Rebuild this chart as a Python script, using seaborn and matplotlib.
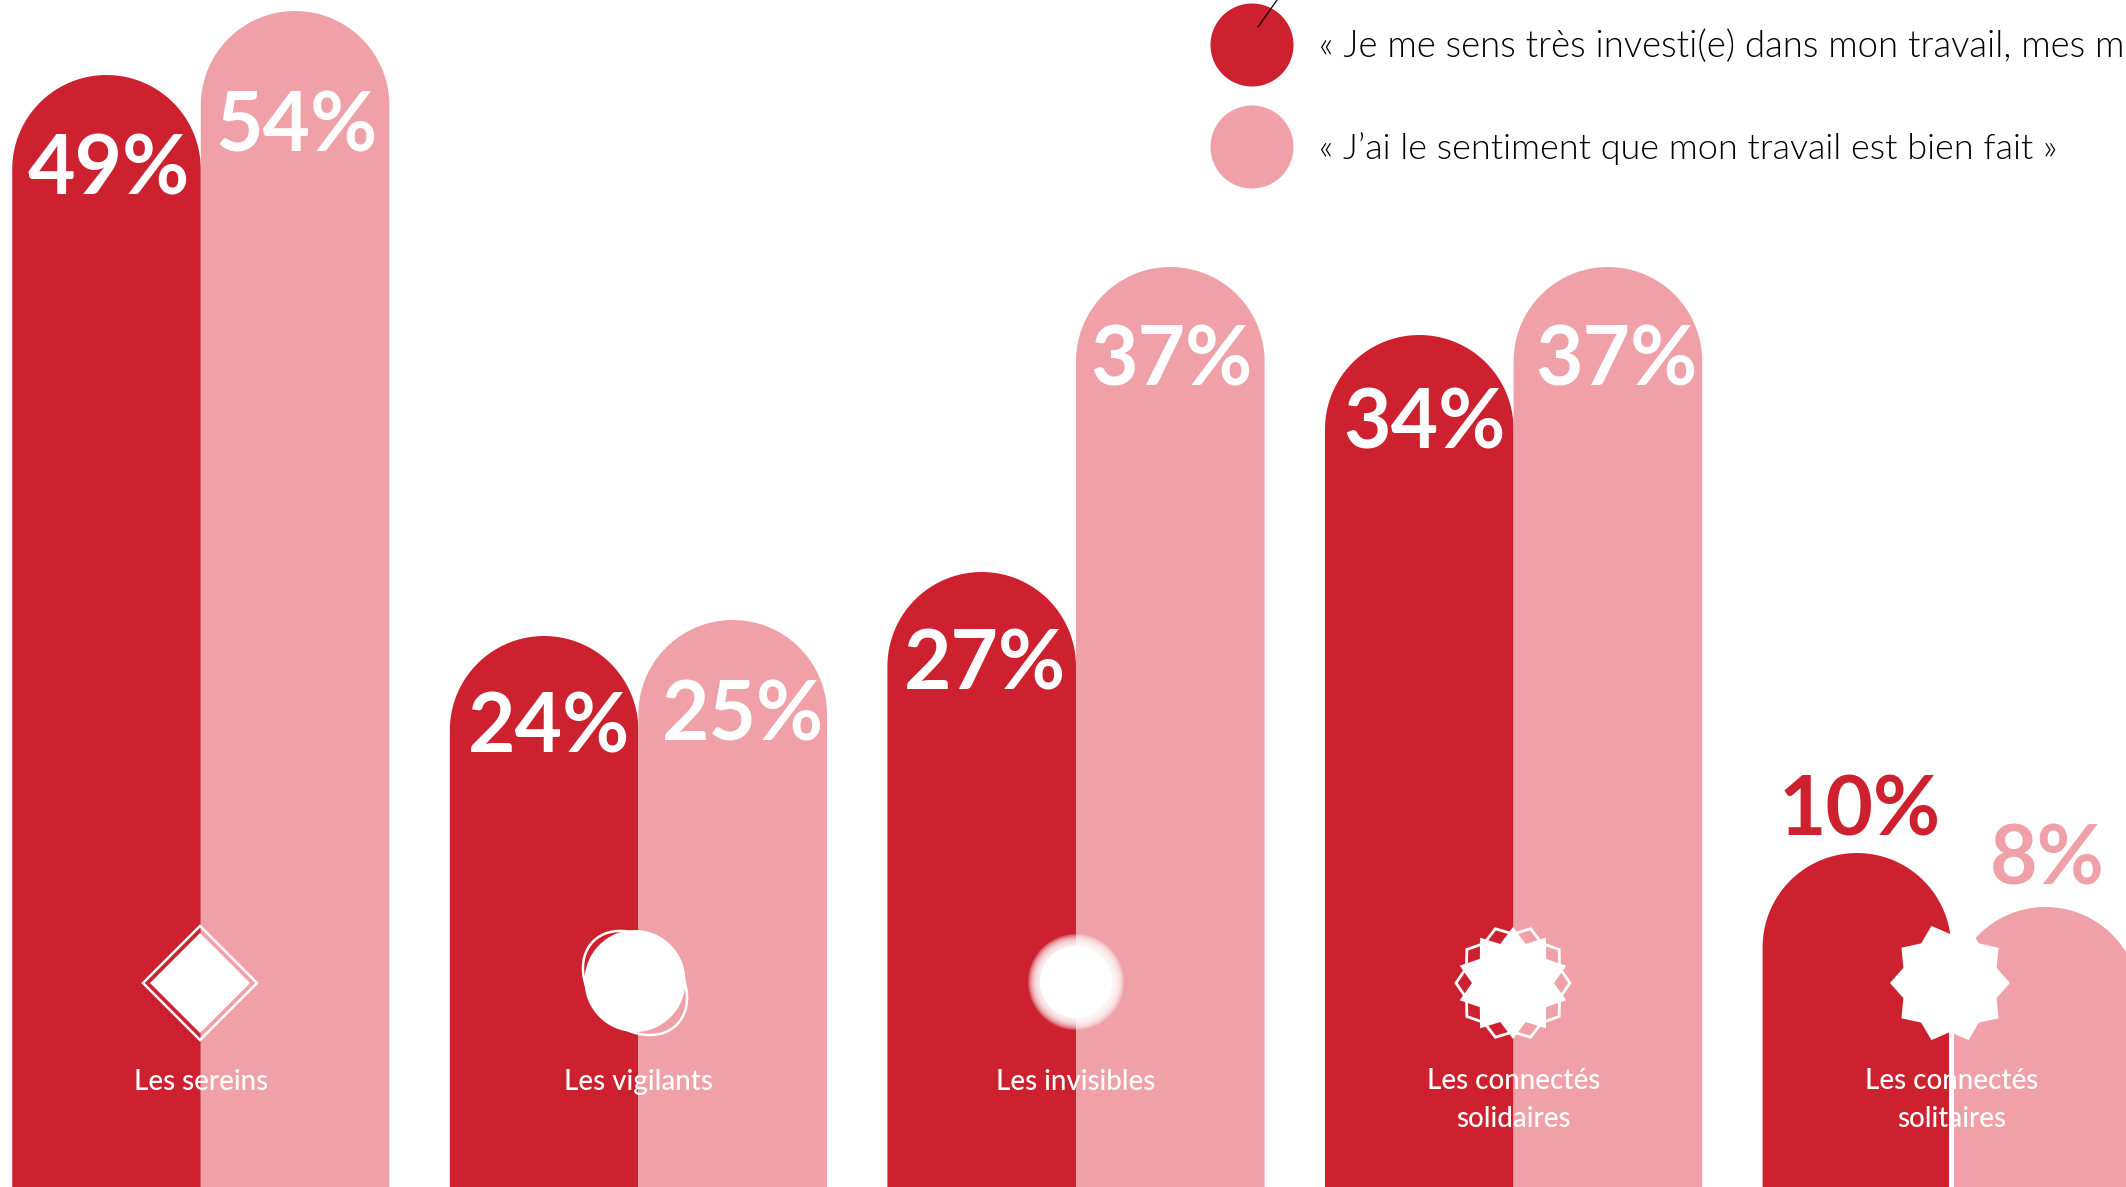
## Engagement and work well done, by profile
## Rounded bars over a hand-read (non linear) vertical scale

# import libraries
import numpy as np
import pandas as pd
import seaborn as sns
import matplotlib.pyplot as plt
from matplotlib.patches import Circle, Ellipse, PathPatch, Polygon
from matplotlib.path import Path
from matplotlib.transforms import Affine2D, IdentityTransform, blended_transform_factory

# chart values
categories = ['Les sereins', 'Les vigilants', 'Les invisibles',
              'Les connectés\nsolidaires', 'Les connectés\nsolitaires']
invested = [49, 24, 27, 34, 10]
well_done = [54, 25, 37, 37, 8]
legend_labels = ['« Je me sens très investi(e) dans mon travail, mes missions »',
                 '« J’ai le sentiment que mon travail est bien fait »']

# the bars in the picture are not linear, so the axis follows what was read off it
scale_pct = [0, 8, 10, 24, 25, 27, 34, 37, 49, 54, 55]
scale_height = [0, 280, 334, 551, 567, 615, 852, 920, 1112, 1176, 1187]

RED = '#CE2130'
PINK = '#F0A1A8'
W, H = 2126, 1187

sns.set_theme(style='white')
plt.rcParams['font.family'] = ['Lato', 'DejaVu Sans']

df = pd.DataFrame({
    'category': categories * 2,
    'value': invested + well_done,
    'series': ['invested'] * 5 + ['well_done'] * 5,
})

fig = plt.figure(figsize=(W / 100, H / 100), dpi=100)
ax = fig.add_axes([0, 0, 1, 1])
sns.barplot(data=df, x='category', y='value', hue='series', ax=ax,
            palette={'invested': RED, 'well_done': PINK},
            width=0.862, gap=0, saturation=1, legend=False)

ax.set_yscale('function', functions=(
    lambda v: np.interp(v, scale_pct, scale_height),
    lambda h: np.interp(h, scale_height, scale_pct)))
ax.set_ylim(0, 55)
ax.set_xlim(-200.8 / 437.6, (W - 200.8) / 437.6)
ax.set_xlabel('')
ax.set_ylabel('')
ax.set_xticks([])
ax.set_yticks([])
ax.minorticks_off()
sns.despine(ax=ax, left=True, bottom=True)

# pixel coordinates from the top left, for the decoration
px = Affine2D().scale(1, -1).translate(0, H)
x_px = blended_transform_factory(ax.transData, px)


def round_top(bar, color):
    # swap the square bar for one with a half circle on top, same place same size
    box = bar.get_window_extent()
    r = box.width / 2
    a = np.linspace(np.pi, 0, 60)
    arc = np.column_stack([box.x0 + r + r * np.cos(a), box.y1 - r + r * np.sin(a)])
    verts = np.vstack([[box.x0, box.y0 - 50], arc, [box.x1, box.y0 - 50]])
    ax.add_patch(PathPatch(Path(np.vstack([verts, verts[0]]), closed=True),
                           facecolor=color, edgecolor='none',
                           transform=IdentityTransform(), zorder=2))
    bar.set_visible(False)


for container, color in zip(ax.containers, [RED, PINK]):
    for bar in container:
        round_top(bar, color)

# percentage labels, nudged by hand
nudge_red = [(2, -96), (5, -93), (3, -94), (5, -90), (3, 41)]
nudge_pink = [(1, -117), (10, -97), (1, -95), (9, -95), (2, 46)]
for container, values, nudges, color in [(ax.containers[0], invested, nudge_red, RED),
                                         (ax.containers[1], well_done, nudge_pink, PINK)]:
    for bar, v, (dx, dy) in zip(container, values, nudges):
        ax.annotate(f'{v}%', xy=(bar.get_x() + bar.get_width() / 2, v),
                    xytext=(dx, dy), textcoords='offset pixels',
                    ha='center', va='center', fontsize=59, fontweight='bold',
                    color=color if dy > 0 else 'white', zorder=6)

# category names
for i, name in enumerate(categories):
    y = 1100 if '\n' in name else 1082
    ax.text(i, y, name, transform=x_px, ha='center', va='center',
            fontsize=20, fontweight=500, color='white', linespacing=1.55, zorder=6)


def star(cx, cy, outer, inner, turn=0, n=10):
    a = np.deg2rad(turn) + np.arange(2 * n) * np.pi / n
    r = np.where(np.arange(2 * n) % 2 == 0, outer, inner)
    return np.column_stack([cx + r * np.sin(a), cy - r * np.cos(a)])


# profile icons
cy = 983
ax.add_patch(Polygon([(200, cy - 57), (257, cy), (200, cy + 57), (143, cy)], closed=True,
                     facecolor='none', edgecolor='white', lw=1.8, transform=px, zorder=5))
ax.add_patch(Polygon([(200, cy - 50), (250, cy), (200, cy + 50), (150, cy)], closed=True,
                     facecolor='white', edgecolor='none', transform=px, zorder=5))

ax.add_patch(Ellipse((635, cy), 118, 88, angle=45, facecolor='none', edgecolor='white',
                     lw=1.8, transform=px, zorder=5))
ax.add_patch(Ellipse((635, 981), 101, 102, facecolor='white', edgecolor='none',
                     transform=px, zorder=5))

# soft edge of the blurred dot
for r in np.linspace(48, 36, 13):
    ax.add_patch(Circle((1076, 982), r, facecolor='white', edgecolor='none', alpha=0.2,
                        transform=px, zorder=5))
ax.add_patch(Circle((1076, 982), 36, facecolor='white', edgecolor='none', transform=px, zorder=5))

ax.add_patch(Polygon(star(1513, cy, 57, 49, turn=18), closed=True, facecolor='none',
                     edgecolor='white', lw=2, transform=px, zorder=5))
ax.add_patch(Polygon(star(1513, cy, 56, 41), closed=True, facecolor='white', edgecolor='none',
                     transform=px, zorder=5))

ax.add_patch(Polygon(star(1950, cy, 60, 49, turn=18), closed=True, facecolor='white',
                     edgecolor='none', transform=px, zorder=5))
ax.plot([4, 4], [1030, H], color='white', lw=3.6, transform=x_px, zorder=4)

# legend, the first line runs off the page as in the original
for y, color, label, size in zip([45, 147], [RED, PINK], legend_labels, [26.3, 25.9]):
    ax.add_patch(Circle((1252, y), 41.5, facecolor=color, edgecolor='none', transform=px, zorder=5))
    ax.text(1319, y + 2, label, transform=px, ha='left', va='center', fontsize=size,
            fontweight=300, color='black', zorder=6, clip_on=True)
ax.plot([1277, 1258], [0, 27], color='black', lw=0.9, transform=px, zorder=6)

fig.savefig('out.png', dpi=100)
